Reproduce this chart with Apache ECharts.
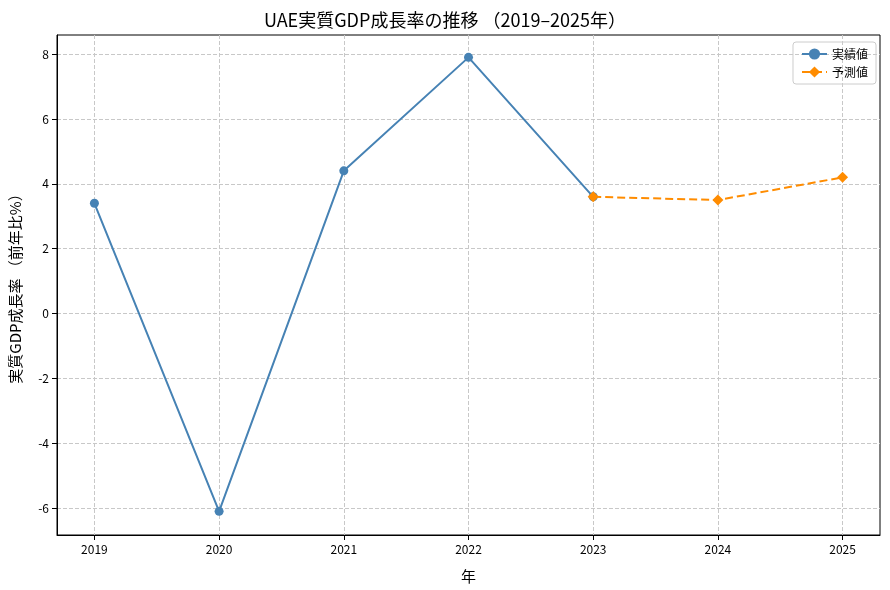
<!DOCTYPE html><html><head><meta charset="utf-8"><script src="https://cdn.jsdelivr.net/npm/echarts@6/dist/echarts.min.js"></script></head><body style="margin:0"><div id="c" style="width:890px;height:590px"></div><script>
const years=[2019,2020,2021,2022,2023,2024,2025];
const actualYears=[2019,2020,2021,2022,2023];
const actualVals=[3.4,-6.1,4.4,7.9,3.6];
const fcYears=[2023,2024,2025];
const fcVals=[3.6,3.5,4.2];
const yTicks=[-6,-4,-2,0,2,4,6,8];
const F='"Noto Sans CJK JP","Noto Sans",sans-serif';
const ch=echarts.init(document.getElementById('c'));
ch.setOption({
 animation:false,
 title:{text:'UAE実質GDP成長率の推移 （2019–2025年）',left:'center',top:6,textStyle:{fontFamily:F,fontSize:18,fontWeight:'normal',color:'#000'}},
 legend:{right:14,top:42,orient:'vertical',itemGap:6,borderColor:'#ccc',borderWidth:1,borderRadius:3,padding:[6,8],textStyle:{fontFamily:F,fontSize:12,color:'#000'},data:['実績値','予測値']},
 grid:{left:55,right:10,top:35,bottom:55,show:true,borderColor:'#000',borderWidth:1,backgroundColor:'transparent'},
 xAxis:{type:'value',min:2018.7,max:2025.3,name:'年',nameLocation:'middle',nameGap:34,nameTextStyle:{fontFamily:F,fontSize:15,color:'#000'},
  axisLine:{onZero:false,lineStyle:{color:'#000'}},axisTick:{show:true,customValues:years,lineStyle:{color:'#000'}},
  axisLabel:{fontFamily:F,fontSize:12,color:'#000',customValues:years,formatter:v=>String(v)},
  splitLine:{show:true,lineStyle:{type:'dashed',color:'#c8c8c8'}}},
 yAxis:{type:'value',min:-6.83,max:8.59,name:'実質GDP成長率 （前年比%）',nameLocation:'middle',nameGap:34,nameTextStyle:{fontFamily:F,fontSize:15,color:'#000'},
  axisLine:{show:true,onZero:false,lineStyle:{color:'#000'}},axisTick:{show:true,customValues:yTicks,lineStyle:{color:'#000'}},
  axisLabel:{fontFamily:F,fontSize:12,color:'#000',customValues:yTicks,formatter:v=>String(v)},
  splitLine:{show:true,lineStyle:{type:'dashed',color:'#c8c8c8'}}},
 series:[
  {name:'実績値',type:'line',data:actualYears.map((y,i)=>[y,actualVals[i]]),symbol:'circle',symbolSize:9,lineStyle:{color:'#4682b4',width:2},itemStyle:{color:'#4682b4'}},
  {name:'予測値',type:'line',data:fcYears.map((y,i)=>[y,fcVals[i]]),symbol:'diamond',symbolSize:11,lineStyle:{color:'#ff8c00',width:2,type:'dashed'},itemStyle:{color:'#ff8c00'}}
 ]
});
</script></body></html>
